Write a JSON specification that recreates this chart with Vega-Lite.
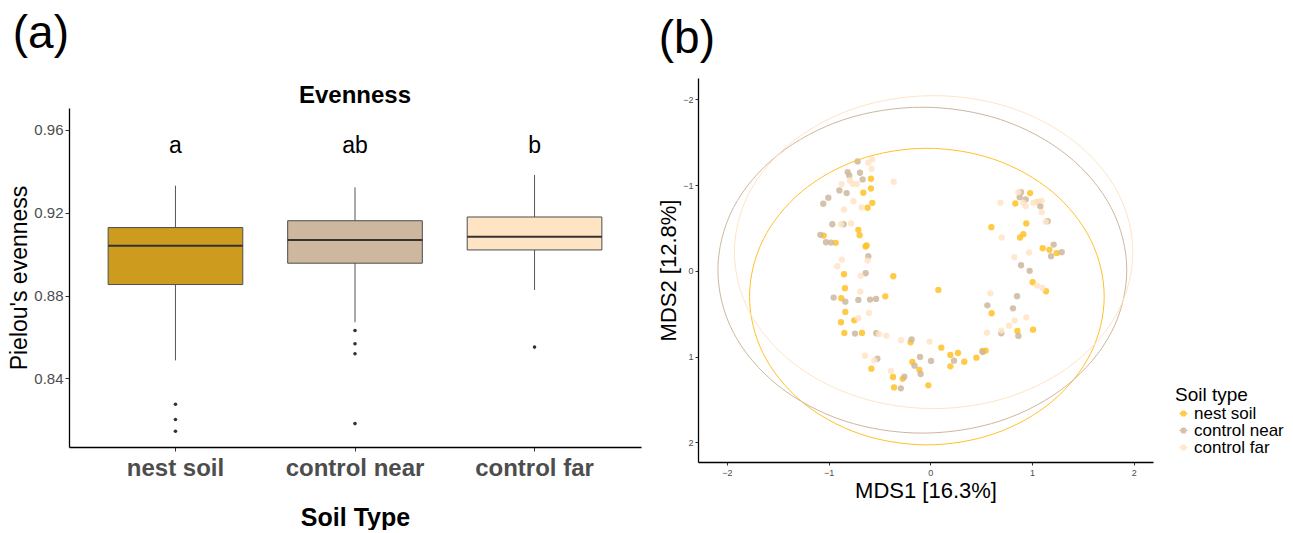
{
  "$schema": "https://vega.github.io/schema/vega-lite/v6.json",
  "padding": {"left": 8, "top": 10, "right": 0, "bottom": 0},
  "config": {
    "font": "Liberation Sans",
    "view": {"stroke": null},
    "axis": {"grid": false, "domainColor": "black", "domainWidth": 1.3, "tickColor": "#333333", "labelFont": "Liberation Sans", "titleFont": "Liberation Sans", "titleColor": "black", "titleFontWeight": "normal"},
    "title": {"font": "Liberation Sans", "color": "black"},
    "concat": {"spacing": 16}
  },
  "datasets": {
    "box": [
      {"soil": "nest soil", "lower": 0.8487, "q1": 0.8853, "median": 0.904, "q3": 0.9128, "upper": 0.933, "letter": "a", "ly": 0.949},
      {"soil": "control near", "lower": 0.8671, "q1": 0.8956, "median": 0.9068, "q3": 0.9161, "upper": 0.9322, "letter": "ab", "ly": 0.949},
      {"soil": "control far", "lower": 0.8827, "q1": 0.902, "median": 0.9084, "q3": 0.9179, "upper": 0.9382, "letter": "b", "ly": 0.949}
    ],
    "outliers": [
      {"soil": "nest soil", "v": 0.8275},
      {"soil": "nest soil", "v": 0.8202},
      {"soil": "nest soil", "v": 0.8145},
      {"soil": "control near", "v": 0.8631},
      {"soil": "control near", "v": 0.8567},
      {"soil": "control near", "v": 0.8519},
      {"soil": "control near", "v": 0.8182},
      {"soil": "control far", "v": 0.8551}
    ],
    "spacer": [{"s": ""}],
    "pts": [
      {"g": "nest soil", "x": -0.584, "y": -1.075},
      {"g": "nest soil", "x": -0.584, "y": -0.961},
      {"g": "nest soil", "x": -0.659, "y": -0.911},
      {"g": "nest soil", "x": -0.571, "y": -0.794},
      {"g": "nest soil", "x": -0.617, "y": -0.736},
      {"g": "nest soil", "x": -0.708, "y": -0.479},
      {"g": "nest soil", "x": -0.695, "y": -0.416},
      {"g": "nest soil", "x": -1.049, "y": -0.412},
      {"g": "nest soil", "x": -0.931, "y": -0.327},
      {"g": "nest soil", "x": -0.627, "y": -0.296},
      {"g": "nest soil", "x": -0.637, "y": -0.284},
      {"g": "nest soil", "x": -0.849, "y": 0.04},
      {"g": "nest soil", "x": -0.364, "y": 0.063},
      {"g": "nest soil", "x": -0.839, "y": 0.203},
      {"g": "nest soil", "x": -0.876, "y": 0.32},
      {"g": "nest soil", "x": -0.443, "y": 0.297},
      {"g": "nest soil", "x": -0.836, "y": 0.479},
      {"g": "nest soil", "x": -0.748, "y": 0.577},
      {"g": "nest soil", "x": -0.879, "y": 0.6},
      {"g": "nest soil", "x": -0.846, "y": 0.724},
      {"g": "nest soil", "x": -0.672, "y": 0.724},
      {"g": "nest soil", "x": -0.194, "y": 0.834},
      {"g": "nest soil", "x": -0.58, "y": 1.141},
      {"g": "nest soil", "x": -0.367, "y": 1.238},
      {"g": "nest soil", "x": -0.357, "y": 1.36},
      {"g": "nest soil", "x": -0.177, "y": 1.063},
      {"g": "nest soil", "x": -0.108, "y": 1.155},
      {"g": "nest soil", "x": -0.272, "y": 1.26},
      {"g": "nest soil", "x": -0.02, "y": 1.336},
      {"g": "nest soil", "x": 0.079, "y": 0.222},
      {"g": "nest soil", "x": 0.108, "y": 0.896},
      {"g": "nest soil", "x": 0.197, "y": 0.981},
      {"g": "nest soil", "x": 0.272, "y": 0.958},
      {"g": "nest soil", "x": 0.197, "y": 1.114},
      {"g": "nest soil", "x": 0.334, "y": 1.06},
      {"g": "nest soil", "x": 0.453, "y": 1.013},
      {"g": "nest soil", "x": 0.512, "y": 0.935},
      {"g": "nest soil", "x": 0.544, "y": 0.931},
      {"g": "nest soil", "x": 0.603, "y": 0.495},
      {"g": "nest soil", "x": 0.856, "y": 0.701},
      {"g": "nest soil", "x": 1.01, "y": 0.686},
      {"g": "nest soil", "x": 1.007, "y": 0.133},
      {"g": "nest soil", "x": 1.138, "y": 0.238},
      {"g": "nest soil", "x": 1.105, "y": -0.264},
      {"g": "nest soil", "x": 1.171, "y": -0.245},
      {"g": "nest soil", "x": 1.243, "y": -0.206},
      {"g": "nest soil", "x": 0.915, "y": -0.428},
      {"g": "nest soil", "x": 0.882, "y": -0.389},
      {"g": "nest soil", "x": 0.944, "y": -0.553},
      {"g": "nest soil", "x": 0.6, "y": -0.51},
      {"g": "nest soil", "x": 0.836, "y": -0.786},
      {"g": "nest soil", "x": 0.981, "y": -0.907},
      {"g": "control near", "x": -0.715, "y": -1.277},
      {"g": "control near", "x": -0.813, "y": -1.152},
      {"g": "control near", "x": -0.797, "y": -1.113},
      {"g": "control near", "x": -0.692, "y": -1.145},
      {"g": "control near", "x": -0.666, "y": -1.067},
      {"g": "control near", "x": -0.895, "y": -0.938},
      {"g": "control near", "x": -0.823, "y": -0.907},
      {"g": "control near", "x": -1.003, "y": -0.853},
      {"g": "control near", "x": -1.053, "y": -0.783},
      {"g": "control near", "x": -0.964, "y": -0.544},
      {"g": "control near", "x": -0.853, "y": -0.544},
      {"g": "control near", "x": -1.082, "y": -0.42},
      {"g": "control near", "x": -1.026, "y": -0.334},
      {"g": "control near", "x": -0.977, "y": -0.33},
      {"g": "control near", "x": -0.61, "y": -0.171},
      {"g": "control near", "x": -0.636, "y": 0.028},
      {"g": "control near", "x": -0.951, "y": 0.312},
      {"g": "control near", "x": -0.836, "y": 0.359},
      {"g": "control near", "x": -0.708, "y": 0.339},
      {"g": "control near", "x": -0.593, "y": 0.335},
      {"g": "control near", "x": -0.534, "y": 0.327},
      {"g": "control near", "x": -0.741, "y": 0.732},
      {"g": "control near", "x": -0.531, "y": 0.728},
      {"g": "control near", "x": -0.184, "y": 0.799},
      {"g": "control near", "x": -0.521, "y": 1.025},
      {"g": "control near", "x": -0.101, "y": 1.005},
      {"g": "control near", "x": -0.155, "y": 1.106},
      {"g": "control near", "x": 0.007, "y": 1.051},
      {"g": "control near", "x": -0.095, "y": 1.203},
      {"g": "control near", "x": -0.256, "y": 1.235},
      {"g": "control near", "x": -0.29, "y": 1.371},
      {"g": "control near", "x": 0.233, "y": 1.048},
      {"g": "control near", "x": 0.515, "y": 0.948},
      {"g": "control near", "x": 0.698, "y": 0.729},
      {"g": "control near", "x": 0.866, "y": 0.759},
      {"g": "control near", "x": 0.561, "y": 0.402},
      {"g": "control near", "x": 0.813, "y": 0.437},
      {"g": "control near", "x": 0.853, "y": 0.296},
      {"g": "control near", "x": 0.977, "y": 0.0},
      {"g": "control near", "x": 0.892, "y": -0.065},
      {"g": "control near", "x": 1.187, "y": -0.171},
      {"g": "control near", "x": 1.213, "y": -0.307},
      {"g": "control near", "x": 1.292, "y": -0.217},
      {"g": "control near", "x": 1.154, "y": -0.58},
      {"g": "control near", "x": 0.892, "y": -0.918},
      {"g": "control near", "x": 0.879, "y": -0.86},
      {"g": "control near", "x": 0.938, "y": -0.833},
      {"g": "control near", "x": 1.062, "y": -0.802},
      {"g": "control near", "x": 1.082, "y": -0.755},
      {"g": "control far", "x": -0.61, "y": -1.262},
      {"g": "control far", "x": -0.571, "y": -1.3},
      {"g": "control far", "x": -0.577, "y": -1.19},
      {"g": "control far", "x": -0.872, "y": -1.012},
      {"g": "control far", "x": -0.79, "y": -1.055},
      {"g": "control far", "x": -0.764, "y": -1.012},
      {"g": "control far", "x": -0.721, "y": -1.012},
      {"g": "control far", "x": -0.361, "y": -1.04},
      {"g": "control far", "x": -0.757, "y": -0.813},
      {"g": "control far", "x": -0.849, "y": -0.716},
      {"g": "control far", "x": -0.676, "y": -0.739},
      {"g": "control far", "x": -0.879, "y": -0.544},
      {"g": "control far", "x": -0.78, "y": -0.553},
      {"g": "control far", "x": -0.617, "y": -0.12},
      {"g": "control far", "x": -0.869, "y": -0.132},
      {"g": "control far", "x": -0.915, "y": -0.054},
      {"g": "control far", "x": -0.686, "y": 0.058},
      {"g": "control far", "x": -0.689, "y": 0.242},
      {"g": "control far", "x": -0.603, "y": 0.491},
      {"g": "control far", "x": -0.708, "y": 0.553},
      {"g": "control far", "x": -0.505, "y": 0.74},
      {"g": "control far", "x": -0.433, "y": 0.756},
      {"g": "control far", "x": -0.288, "y": 0.81},
      {"g": "control far", "x": -0.007, "y": 0.826},
      {"g": "control far", "x": -0.643, "y": 0.99},
      {"g": "control far", "x": -0.551, "y": 1.044},
      {"g": "control far", "x": -0.387, "y": 1.168},
      {"g": "control far", "x": 0.557, "y": 0.721},
      {"g": "control far", "x": 0.698, "y": 0.697},
      {"g": "control far", "x": 0.774, "y": 0.639},
      {"g": "control far", "x": 0.829, "y": 0.58},
      {"g": "control far", "x": 0.944, "y": 0.542},
      {"g": "control far", "x": 0.59, "y": 0.262},
      {"g": "control far", "x": 1.049, "y": 0.172},
      {"g": "control far", "x": 1.102, "y": 0.199},
      {"g": "control far", "x": 0.971, "y": -0.214},
      {"g": "control far", "x": 0.826, "y": -0.159},
      {"g": "control far", "x": 0.702, "y": -0.39},
      {"g": "control far", "x": 1.135, "y": -0.572},
      {"g": "control far", "x": 1.095, "y": -0.685},
      {"g": "control far", "x": 0.689, "y": -0.794},
      {"g": "control far", "x": 0.866, "y": -0.918},
      {"g": "control far", "x": 0.915, "y": -0.794},
      {"g": "control far", "x": 0.938, "y": -0.755},
      {"g": "control far", "x": 1.013, "y": -0.794},
      {"g": "control far", "x": 1.046, "y": -0.806},
      {"g": "control far", "x": 1.095, "y": -0.817}
    ],
    "ell": [
      {"g": "nest soil", "i": 0, "x": 1.71, "y": 0.3},
      {"g": "nest soil", "i": 1, "x": 1.577, "y": 0.962},
      {"g": "nest soil", "i": 2, "x": 1.199, "y": 1.523},
      {"g": "nest soil", "i": 3, "x": 0.634, "y": 1.898},
      {"g": "nest soil", "i": 4, "x": -0.034, "y": 2.03},
      {"g": "nest soil", "i": 5, "x": -0.702, "y": 1.898},
      {"g": "nest soil", "i": 6, "x": -1.267, "y": 1.523},
      {"g": "nest soil", "i": 7, "x": -1.645, "y": 0.962},
      {"g": "nest soil", "i": 8, "x": -1.778, "y": 0.3},
      {"g": "nest soil", "i": 9, "x": -1.645, "y": -0.362},
      {"g": "nest soil", "i": 10, "x": -1.267, "y": -0.923},
      {"g": "nest soil", "i": 11, "x": -0.702, "y": -1.298},
      {"g": "nest soil", "i": 12, "x": -0.034, "y": -1.43},
      {"g": "nest soil", "i": 13, "x": 0.634, "y": -1.298},
      {"g": "nest soil", "i": 14, "x": 1.199, "y": -0.923},
      {"g": "nest soil", "i": 15, "x": 1.577, "y": -0.362},
      {"g": "control near", "i": 0, "x": 1.932, "y": -0.008},
      {"g": "control near", "i": 1, "x": 1.779, "y": 0.72},
      {"g": "control near", "i": 2, "x": 1.343, "y": 1.336},
      {"g": "control near", "i": 3, "x": 0.692, "y": 1.749},
      {"g": "control near", "i": 4, "x": -0.079, "y": 1.893},
      {"g": "control near", "i": 5, "x": -0.849, "y": 1.749},
      {"g": "control near", "i": 6, "x": -1.5, "y": 1.336},
      {"g": "control near", "i": 7, "x": -1.937, "y": 0.72},
      {"g": "control near", "i": 8, "x": -2.089, "y": -0.008},
      {"g": "control near", "i": 9, "x": -1.937, "y": -0.736},
      {"g": "control near", "i": 10, "x": -1.5, "y": -1.352},
      {"g": "control near", "i": 11, "x": -0.849, "y": -1.765},
      {"g": "control near", "i": 12, "x": -0.079, "y": -1.909},
      {"g": "control near", "i": 13, "x": 0.692, "y": -1.765},
      {"g": "control near", "i": 14, "x": 1.343, "y": -1.352},
      {"g": "control near", "i": 15, "x": 1.779, "y": -0.736},
      {"g": "control far", "i": 0, "x": 1.992, "y": -0.219},
      {"g": "control far", "i": 1, "x": 1.843, "y": 0.481},
      {"g": "control far", "i": 2, "x": 1.418, "y": 1.072},
      {"g": "control far", "i": 3, "x": 0.783, "y": 1.468},
      {"g": "control far", "i": 4, "x": 0.033, "y": 1.607},
      {"g": "control far", "i": 5, "x": -0.718, "y": 1.468},
      {"g": "control far", "i": 6, "x": -1.353, "y": 1.072},
      {"g": "control far", "i": 7, "x": -1.778, "y": 0.481},
      {"g": "control far", "i": 8, "x": -1.927, "y": -0.219},
      {"g": "control far", "i": 9, "x": -1.778, "y": -0.918},
      {"g": "control far", "i": 10, "x": -1.353, "y": -1.509},
      {"g": "control far", "i": 11, "x": -0.718, "y": -1.906},
      {"g": "control far", "i": 12, "x": 0.033, "y": -2.044},
      {"g": "control far", "i": 13, "x": 0.783, "y": -1.906},
      {"g": "control far", "i": 14, "x": 1.418, "y": -1.509},
      {"g": "control far", "i": 15, "x": 1.843, "y": -0.918}
    ]
  },
  "resolve": {"scale": {"color": "independent", "x": "independent", "y": "independent"}, "legend": {"color": "independent"}},
  "hconcat": [
    {
      "title": {"text": "(a)", "anchor": "start", "frame": "bounds", "fontSize": 46, "fontWeight": "normal", "offset": 15, "dx": 4},
      "spacing": 0,
      "vconcat": [
        {
          "width": 572,
          "height": 1,
          "data": {"name": "spacer"},
          "mark": {"type": "text"},
          "encoding": {"text": {"field": "s"}}
        },
        {
          "title": {"text": "Evenness", "anchor": "middle", "fontSize": 24, "fontWeight": "bold", "offset": 0},
          "width": 572,
          "height": 339,
          "encoding": {
            "x": {"field": "soil", "type": "nominal",
              "scale": {"type": "band", "domain": ["nest soil", "control near", "control far"], "paddingInner": 0, "paddingOuter": 0.093},
              "axis": {"title": "Soil Type", "labelAngle": 0, "labelFontSize": 24, "labelFontWeight": "bold", "labelColor": "#4d4d4d", "labelPadding": 5, "tickSize": 4, "titleFontSize": 25, "titleFontWeight": "bold", "titlePadding": 25}}
          },
          "layer": [
            {
              "data": {"name": "box"},
              "mark": {"type": "rule", "color": "#555555", "strokeWidth": 1},
              "encoding": {
                "y": {"field": "lower", "type": "quantitative",
                  "scale": {"domain": [0.8069, 0.9705], "nice": false, "zero": false},
                  "axis": {"title": "Pielou's evenness", "values": [0.84, 0.88, 0.92, 0.96], "format": ".2f", "labelFontSize": 15, "labelColor": "#4d4d4d", "tickSize": 4, "labelPadding": 2, "titleFontSize": 23, "titlePadding": 2}},
                "y2": {"field": "upper"}
              }
            },
            {
              "data": {"name": "box"},
              "mark": {"type": "bar", "width": {"band": 0.75}, "stroke": "#4d4d4d", "strokeWidth": 1},
              "encoding": {
                "y": {"field": "q1", "type": "quantitative"},
                "y2": {"field": "q3"},
                "color": {"field": "soil", "type": "nominal", "scale": {"domain": ["nest soil", "control near", "control far"], "range": ["#CD9B1D", "#CDB79E", "#FFE4C4"]}, "legend": null}
              }
            },
            {
              "data": {"name": "box"},
              "mark": {"type": "bar", "width": {"band": 0.75}, "fill": null, "stroke": "#333333", "strokeWidth": 2},
              "encoding": {
                "y": {"field": "median", "type": "quantitative"},
                "y2": {"field": "median"}
              }
            },
            {
              "data": {"name": "outliers"},
              "mark": {"type": "circle", "size": 13, "color": "#333333", "opacity": 1},
              "encoding": {
                "y": {"field": "v", "type": "quantitative"}
              }
            },
            {
              "data": {"name": "box"},
              "mark": {"type": "text", "fontSize": 23, "baseline": "alphabetic", "align": "center", "color": "black"},
              "encoding": {
                "y": {"field": "ly", "type": "quantitative"},
                "text": {"field": "letter"}
              }
            }
          ]
        }
      ]
    },
    {
      "title": {"text": "(b)", "anchor": "start", "frame": "bounds", "fontSize": 46, "fontWeight": "normal", "offset": 15, "dx": 1},
      "width": 455,
      "height": 384,
      "encoding": {
        "x": {"field": "x", "type": "quantitative",
          "scale": {"domain": [-2.285, 2.19], "nice": false, "zero": false},
          "axis": {"title": "MDS1 [16.3%]", "values": [-2, -1, 0, 1, 2], "format": "d", "labelFontSize": 9, "labelColor": "#4d4d4d", "tickSize": 3, "labelPadding": 3, "titleFontSize": 22, "titlePadding": 3}},
        "y": {"field": "y", "type": "quantitative",
          "scale": {"domain": [-2.25, 2.23], "nice": false, "zero": false, "reverse": true},
          "axis": {"title": "MDS2 [12.8%]", "values": [-2, -1, 0, 1, 2], "format": "d", "labelFontSize": 9, "labelColor": "#4d4d4d", "tickSize": 3, "labelPadding": 2, "titleFontSize": 22, "titlePadding": 2}},
        "color": {"field": "g", "type": "nominal",
          "scale": {"domain": ["nest soil", "control near", "control far"], "range": ["#FFC125", "#CDB79E", "#FFE4C4"]},
          "legend": {"title": "Soil type", "orient": "none", "legendX": 477, "legendY": 308, "titleFontSize": 19, "titleFontWeight": "normal", "titleColor": "black", "labelFontSize": 17, "labelColor": "black", "rowPadding": -1, "symbolType": "M-1,0H1M-0.6,0A0.6,0.6,0,1,1,0.6,0A0.6,0.6,0,1,1,-0.6,0Z", "symbolSize": 70, "symbolStrokeWidth": 1.2, "titlePadding": 0, "labelOffset": 2}}
      },
      "layer": [
        {
          "data": {"name": "pts"},
          "mark": {"type": "circle", "size": 40, "opacity": 0.85}
        },
        {
          "data": {"name": "ell"},
          "mark": {"type": "line", "interpolate": "cardinal-closed", "strokeWidth": 1},
          "encoding": {"order": {"field": "i", "type": "quantitative"}, "detail": {"field": "g"}}
        }
      ]
    }
  ]
}
